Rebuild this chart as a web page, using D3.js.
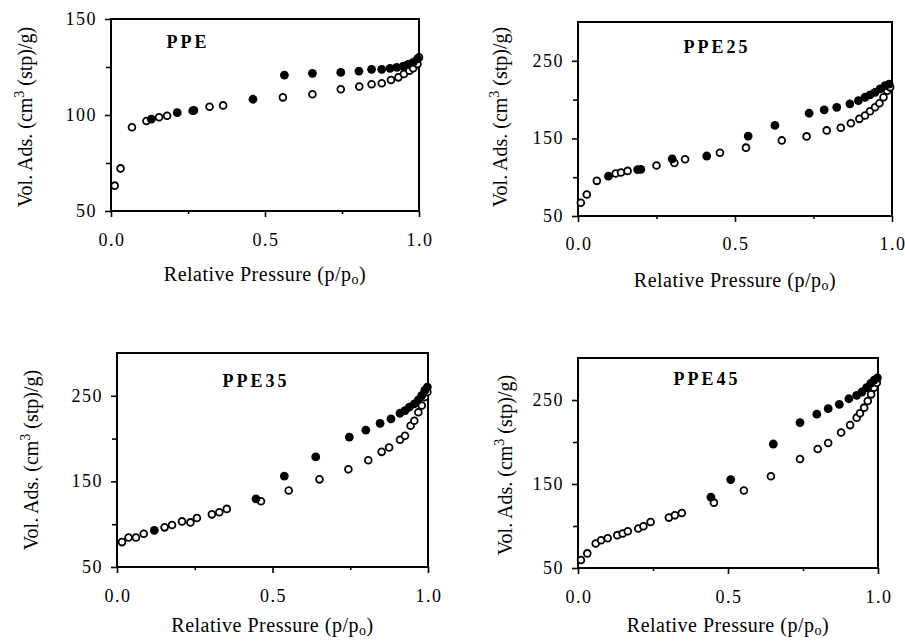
<!DOCTYPE html>
<html>
<head>
<meta charset="utf-8">
<script src="https://cdn.jsdelivr.net/npm/d3@7"></script>
<style>
  body { margin: 0; background: #fff; }
  svg { display: block; }
  text { font-family: "Liberation Serif", "DejaVu Serif", serif; fill: #000; }
  .tick-label { font-size: 18px; letter-spacing: 1.5px; }
  .axis-label { font-size: 20px; }
  .title { font-size: 18px; font-weight: bold; letter-spacing: 3px; }
</style>
</head>
<body>
<div id="chart"></div>
<script>
// titles of the four panels
const titles = ["PPE", "PPE25", "PPE35", "PPE45"];

// [p/po, volume] pairs, adsorption branch (open circles)
const ppeAds = [[0.012,63.2],[0.031,72.2],[0.068,93.6],[0.115,96.9],[0.156,98.8],[0.182,99.6],
  [0.265,102.2],[0.32,104.3],[0.364,105.0],[0.558,109.2],[0.654,110.8],[0.746,113.4],[0.806,114.8],
  [0.846,116.0],[0.879,116.5],[0.909,118.2],[0.933,119.6],[0.951,121.4],[0.969,123.1],[0.981,124.4],
  [0.995,126.5],[1.0,130.0]];
// desorption branch (filled circles)
const ppeDes = [[0.995,129.2],[0.981,127.4],[0.965,126.4],[0.949,125.5],[0.928,124.8],[0.906,124.3],
  [0.879,123.8],[0.846,123.8],[0.805,122.9],[0.746,122.2],[0.654,121.7],[0.563,120.8],[0.461,108.2],
  [0.269,102.4],[0.215,101.2],[0.131,97.8]];

const ppe25Ads = [[0.009,67.1],[0.028,77.8],[0.06,95.3],[0.12,104.7],[0.137,106.0],[0.158,108.1],
  [0.25,115.0],[0.307,118.3],[0.341,123.1],[0.452,131.6],[0.535,138.1],[0.649,147.4],[0.728,152.6],
  [0.792,160.3],[0.837,163.7],[0.869,169.6],[0.896,175.2],[0.914,179.5],[0.93,185.0],[0.946,190.1],
  [0.96,195.3],[0.973,203.0],[0.985,211.5],[0.994,215.8]];
const ppe25Des = [[0.991,220.0],[0.978,218.0],[0.962,213.7],[0.946,209.4],[0.93,206.0],[0.914,203.0],
  [0.893,198.7],[0.866,194.5],[0.824,190.1],[0.784,186.8],[0.736,182.4],[0.627,166.7],[0.542,153.0],
  [0.41,127.3],[0.30,123.5],[0.20,110.0],[0.19,109.8],[0.097,101.3]];

const ppe35Ads = [[0.016,79.1],[0.037,84.5],[0.061,84.5],[0.086,88.8],[0.153,96.3],[0.177,99.1],
  [0.209,103.3],[0.236,102.1],[0.257,107.3],[0.305,111.5],[0.329,113.9],[0.353,117.9],[0.463,126.8],
  [0.552,139.4],[0.651,152.4],[0.744,164.1],[0.808,174.7],[0.851,184.5],[0.875,189.6],[0.91,198.6],
  [0.926,203.3],[0.944,215.0],[0.956,220.9],[0.969,230.8],[0.98,238.6],[0.99,248.5],[0.998,254.4]];
const ppe35Des = [[0.998,260.2],[0.99,256.3],[0.98,250.4],[0.969,245.3],[0.956,240.6],[0.94,236.7],
  [0.926,232.7],[0.91,229.6],[0.881,223.0],[0.846,217.9],[0.8,210.0],[0.747,201.8],[0.639,178.6],
  [0.538,156.2],[0.447,129.6],[0.12,92.7]];

const ppe45Ads = [[0.01,59.5],[0.031,67.4],[0.059,79.2],[0.077,83.1],[0.099,85.5],[0.131,89.1],
  [0.149,91.1],[0.166,93.8],[0.201,97.0],[0.218,99.7],[0.242,104.8],[0.303,110.0],[0.323,112.7],
  [0.346,115.4],[0.453,127.8],[0.553,142.3],[0.643,159.2],[0.74,179.8],[0.799,191.7],[0.834,198.8],
  [0.877,211.3],[0.907,220.1],[0.929,229.0],[0.94,234.3],[0.954,240.9],[0.966,248.8],[0.977,256.7],
  [0.987,264.6],[0.996,270.5]];
const ppe45Des = [[0.998,276.4],[0.987,273.7],[0.976,269.8],[0.962,264.6],[0.946,259.5],[0.929,255.6],
  [0.903,251.5],[0.871,244.9],[0.834,239.7],[0.796,233.1],[0.74,223.1],[0.651,197.6],[0.509,155.3],
  [0.443,134.4]];

// axis ranges and ticks
const xTicks = [0, 0.5, 1];
const xMinor = [0.25, 0.75];
const yDomains = [[50,150],[50,300],[50,300],[50,300]];
const yTicks = [[50,100,150],[50,150,250],[50,150,250],[50,150,250]];
const yMinor = [[75,125],[100,200],[100,200],[100,200]];

const adsSets = [ppeAds, ppe25Ads, ppe35Ads, ppe45Ads];
const desSets = [ppeDes, ppe25Des, ppe35Des, ppe45Des];

const width = 905, height = 642;

// plot boxes in pixels, plus text positions
const boxes = [
  {l:111, r:419, t:19,  b:211, tickY:246, xLabY:281, yLabX:32,  yLabC:117, titleX:188, titleY:48},
  {l:578, r:892, t:22,  b:216, tickY:250, xLabY:287, yLabX:507, yLabC:117, titleX:717, titleY:53},
  {l:117, r:428, t:353, b:567, tickY:602, xLabY:632, yLabX:38,  yLabC:460, titleX:256, titleY:387},
  {l:578, r:878, t:358, b:568, tickY:603, xLabY:632, yLabX:512, yLabC:465, titleX:707, titleY:385}
];

const svg = d3.select("#chart")
  .append("svg")
  .attr("width", width)
  .attr("height", height);

boxes.forEach(function(box, i) {
  const xScale = d3.scaleLinear().domain([0, 1]).range([box.l, box.r]);
  const yScale = d3.scaleLinear().domain(yDomains[i]).range([box.b, box.t]);
  const g = svg.append("g");

  // y axis: major + minor ticks on the left
  g.append("g")
    .attr("transform", `translate(${box.l},0)`)
    .call(d3.axisLeft(yScale).tickValues(yTicks[i]).tickSize(6).tickFormat(""))
    .call(a => a.select(".domain").remove());
  g.append("g")
    .attr("transform", `translate(${box.l},0)`)
    .call(d3.axisLeft(yScale).tickValues(yMinor[i]).tickSize(5).tickFormat(""))
    .call(a => a.select(".domain").remove());

  // x axis ticks below
  g.append("g")
    .attr("transform", `translate(0,${box.b})`)
    .call(d3.axisBottom(xScale).tickValues(xTicks).tickSize(6).tickFormat(""))
    .call(a => a.select(".domain").remove());
  g.append("g")
    .attr("transform", `translate(0,${box.b})`)
    .call(d3.axisBottom(xScale).tickValues(xMinor).tickSize(3).tickFormat(""))
    .call(a => a.select(".domain").remove());
  g.selectAll(".tick line").attr("stroke", "#000").attr("stroke-width", 1.6);

  // frame
  g.append("rect")
    .attr("x", box.l).attr("y", box.t)
    .attr("width", box.r - box.l).attr("height", box.b - box.t)
    .attr("fill", "none").attr("stroke", "#000").attr("stroke-width", 2);

  // tick labels
  g.selectAll(".xt").data(xTicks).join("text")
    .attr("class", "tick-label")
    .attr("x", d => xScale(d) + 1)
    .attr("y", box.tickY)
    .attr("text-anchor", "middle")
    .text(d => d.toFixed(1));
  g.selectAll(".yt").data(yTicks[i]).join("text")
    .attr("class", "tick-label")
    .attr("x", box.l - 14)
    .attr("y", d => yScale(d) + 6)
    .attr("text-anchor", "end")
    .text(d => d);

  // axis labels
  const xl = g.append("text")
    .attr("class", "axis-label")
    .attr("x", (box.l + box.r) / 2)
    .attr("y", box.xLabY)
    .attr("text-anchor", "middle")
    .style("letter-spacing", "0.5px");
  xl.append("tspan").text("Relative Pressure (p/p");
  xl.append("tspan").attr("font-size", "14px").attr("dy", 3).text("o");
  xl.append("tspan").attr("dy", -3).text(")");

  const yl = g.append("text")
    .attr("class", "axis-label")
    .attr("transform", `translate(${box.yLabX},${box.yLabC}) rotate(-90)`)
    .attr("text-anchor", "middle");
  yl.append("tspan").text("Vol. Ads. (cm");
  yl.append("tspan").attr("font-size", "14px").attr("dy", -8).text("3");
  yl.append("tspan").attr("dy", 8).text(" (stp)/g)");

  // title
  g.append("text")
    .attr("class", "title")
    .attr("x", box.titleX)
    .attr("y", box.titleY)
    .attr("text-anchor", "middle")
    .text(titles[i]);

  // adsorption: open circles
  g.selectAll(".ads").data(adsSets[i]).join("circle")
    .attr("cx", d => xScale(d[0]))
    .attr("cy", d => yScale(d[1]))
    .attr("r", 3.4)
    .attr("fill", "#fff")
    .attr("stroke", "#000")
    .attr("stroke-width", 1.8);

  // desorption: filled circles
  g.selectAll(".des").data(desSets[i]).join("circle")
    .attr("cx", d => xScale(d[0]))
    .attr("cy", d => yScale(d[1]))
    .attr("r", 4.4)
    .attr("fill", "#000");
});
</script>
</body>
</html>
